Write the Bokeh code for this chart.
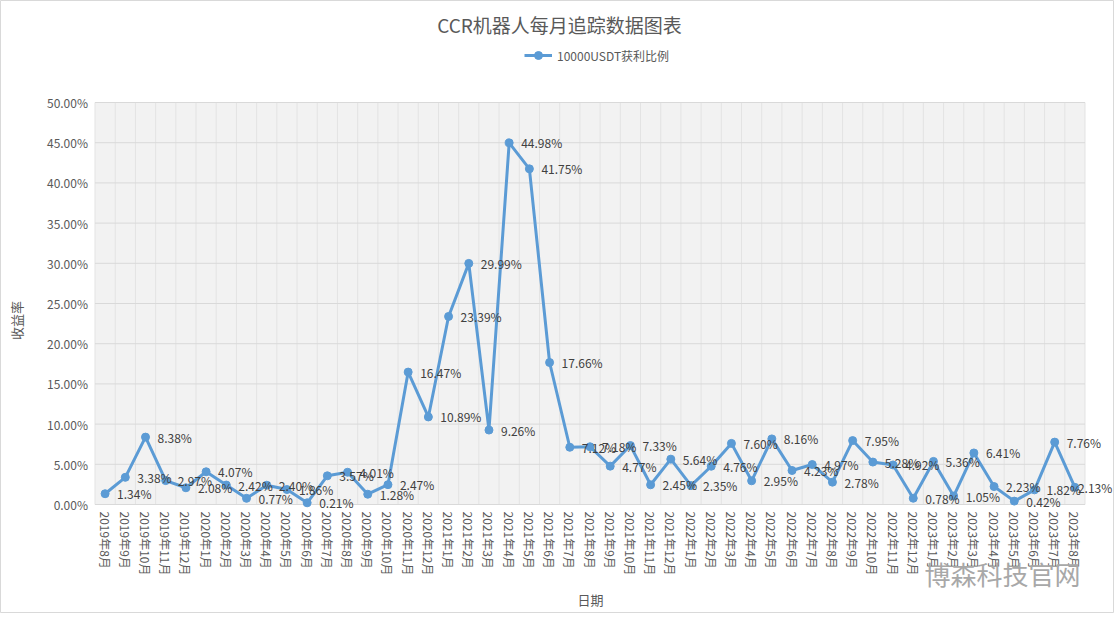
from bokeh.plotting import figure
from bokeh.models import (Range1d, FixedTicker, PrintfTickFormatter,
                          Legend, LegendItem, ColumnDataSource, LabelSet, Label)
from bokeh.core.properties import value
from bokeh.embed import file_html
from bokeh.resources import INLINE

months = [
    "2019年8月", "2019年9月", "2019年10月", "2019年11月", "2019年12月",
    "2020年1月", "2020年2月", "2020年3月", "2020年4月", "2020年5月", "2020年6月",
    "2020年7月", "2020年8月", "2020年9月", "2020年10月", "2020年11月", "2020年12月",
    "2021年1月", "2021年2月", "2021年3月", "2021年4月", "2021年5月", "2021年6月",
    "2021年7月", "2021年8月", "2021年9月", "2021年10月", "2021年11月", "2021年12月",
    "2022年1月", "2022年2月", "2022年3月", "2022年4月", "2022年5月", "2022年6月",
    "2022年7月", "2022年8月", "2022年9月", "2022年10月", "2022年11月", "2022年12月",
    "2023年1月", "2023年2月", "2023年3月", "2023年4月", "2023年5月", "2023年6月",
    "2023年7月", "2023年8月",
]
profit = [
    1.34, 3.38, 8.38, 2.97, 2.08,
    4.07, 2.42, 0.77, 2.40, 1.86, 0.21, 3.57, 4.01, 1.28, 2.47, 16.47, 10.89,
    23.39, 29.99, 9.26, 44.98, 41.75, 17.66, 7.12, 7.18, 4.77, 7.33, 2.45, 5.64,
    2.35, 4.76, 7.60, 2.95, 8.16, 4.23, 4.97, 2.78, 7.95, 5.28, 4.92, 0.78,
    5.36, 1.05, 6.41, 2.23, 0.42, 1.82, 7.76, 2.13,
]
y_ticks = [0, 5, 10, 15, 20, 25, 30, 35, 40, 45, 50]
series_name = "10000USDT获利比例"
title_text = "CCR机器人每月追踪数据图表"
watermark = "博森科技官网"

FONT = "Noto Sans CJK SC"
BLUE = "#5b9bd5"
GRAY = "#595959"

# canvas / plot-area geometry (pixels)
W, H = 1114, 613
PL, PR, PT, PB = 94.5, 1084.5, 102.0, 504.0

n = len(months)
idx = list(range(n))
xb = [i - 0.5 for i in range(n + 1)]
ymin, ymax = y_ticks[0], y_ticks[-1]
sx = (PR - PL) / (xb[-1] - xb[0])
sy = (PB - PT) / (ymax - ymin)
x_range = Range1d(xb[0] - PL / sx, xb[-1] + (W - PR) / sx)
y_range = Range1d(ymin - (H - PB) / sy, ymax + PT / sy)

# label offsets: last label is pulled in so it stays inside the chart (as the source does)
offsets = [12] * n
offsets[-1] = 3
src = ColumnDataSource(dict(x=idx, y=profit, lab=["%.2f%%" % v for v in profit], xo=offsets))

p = figure(width=W, height=H, output_backend="svg", toolbar_location=None,
           x_range=x_range, y_range=y_range,
           min_border=0, min_border_left=0, min_border_right=0,
           min_border_top=0, min_border_bottom=0)
p.title.visible = False
p.background_fill_color = "white"
p.border_fill_color = "white"
p.outline_line_color = "#d9d9d9"
p.xgrid.visible = False
p.ygrid.visible = False

# plot area background + grid
p.quad(left=xb[0], right=xb[-1], bottom=ymin, top=ymax, fill_color="#f2f2f2", line_color=None)
p.segment(x0=xb, y0=[ymin] * len(xb), x1=xb, y1=[ymax] * len(xb),
          line_color="#e3e3e3", line_width=1)
p.segment(x0=[xb[0]] * len(y_ticks), y0=y_ticks, x1=[xb[-1]] * len(y_ticks), y1=y_ticks,
          line_color="#d9d9d9", line_width=1)

# axes (drawn at fixed positions, taking no panel space)
p.xaxis.fixed_location = ymin
p.yaxis.fixed_location = xb[0]
p.xaxis.bounds = (xb[0], xb[-1])
p.yaxis.bounds = (ymin - 4.2, ymax)
p.xaxis.ticker = FixedTicker(ticks=idx)
p.xaxis.major_label_overrides = {i: m for i, m in enumerate(months)}
p.xaxis.major_label_orientation = "vertical"
p.yaxis.ticker = FixedTicker(ticks=y_ticks)
p.yaxis.formatter = PrintfTickFormatter(format="%.2f%%")
for ax in (p.xaxis[0], p.yaxis[0]):
    ax.axis_line_color = None
    ax.major_tick_line_color = None
    ax.minor_tick_line_color = None
    ax.major_tick_out = 0
    ax.major_tick_in = 0
    ax.major_label_text_font = FONT
    ax.major_label_text_font_size = "12px"
    ax.major_label_text_color = GRAY
    ax.axis_label_text_font = FONT
    ax.axis_label_text_font_size = "13px"
    ax.axis_label_text_font_style = "normal"
    ax.axis_label_text_color = GRAY
    ax.major_label_standoff = 7
p.xaxis.axis_label = "日期"
p.yaxis.axis_label = "收益率"
p.yaxis.axis_label_standoff = 18
p.xaxis.axis_label_standoff = 12

ln = p.line("x", "y", source=src, line_color=BLUE, line_width=3)
pts = p.scatter("x", "y", source=src, size=8, fill_color=BLUE, line_color=BLUE)

labels = LabelSet(x="x", y="y", text="lab", source=src, x_offset="xo", y_offset=0,
                  text_font=value(FONT), text_font_size=value("12px"), text_color="#404040",
                  text_baseline="middle", text_align="left")
p.add_layout(labels)

legend = Legend(items=[LegendItem(label=series_name, renderers=[ln, pts])],
                orientation="horizontal", location=(524, H - 65),
                label_text_font=FONT, label_text_font_size="12px", label_text_color=GRAY,
                border_line_color=None, background_fill_alpha=0, glyph_width=28,
                label_standoff=5, margin=0, padding=4)
p.add_layout(legend)

p.add_layout(Label(x=W / 2 + 2, y=H - 24, x_units="screen", y_units="screen", text=title_text,
                   text_font=FONT, text_font_size="19px", text_color=GRAY,
                   text_baseline="middle", text_align="center"))

p.add_layout(Label(x=1002, y=H - 573, x_units="screen", y_units="screen", text=watermark,
                   text_font=FONT, text_font_size="26px", text_color="#a8a8a8",
                   text_baseline="middle", text_align="center"))

open("out.html", "w").write(file_html(p, INLINE))
